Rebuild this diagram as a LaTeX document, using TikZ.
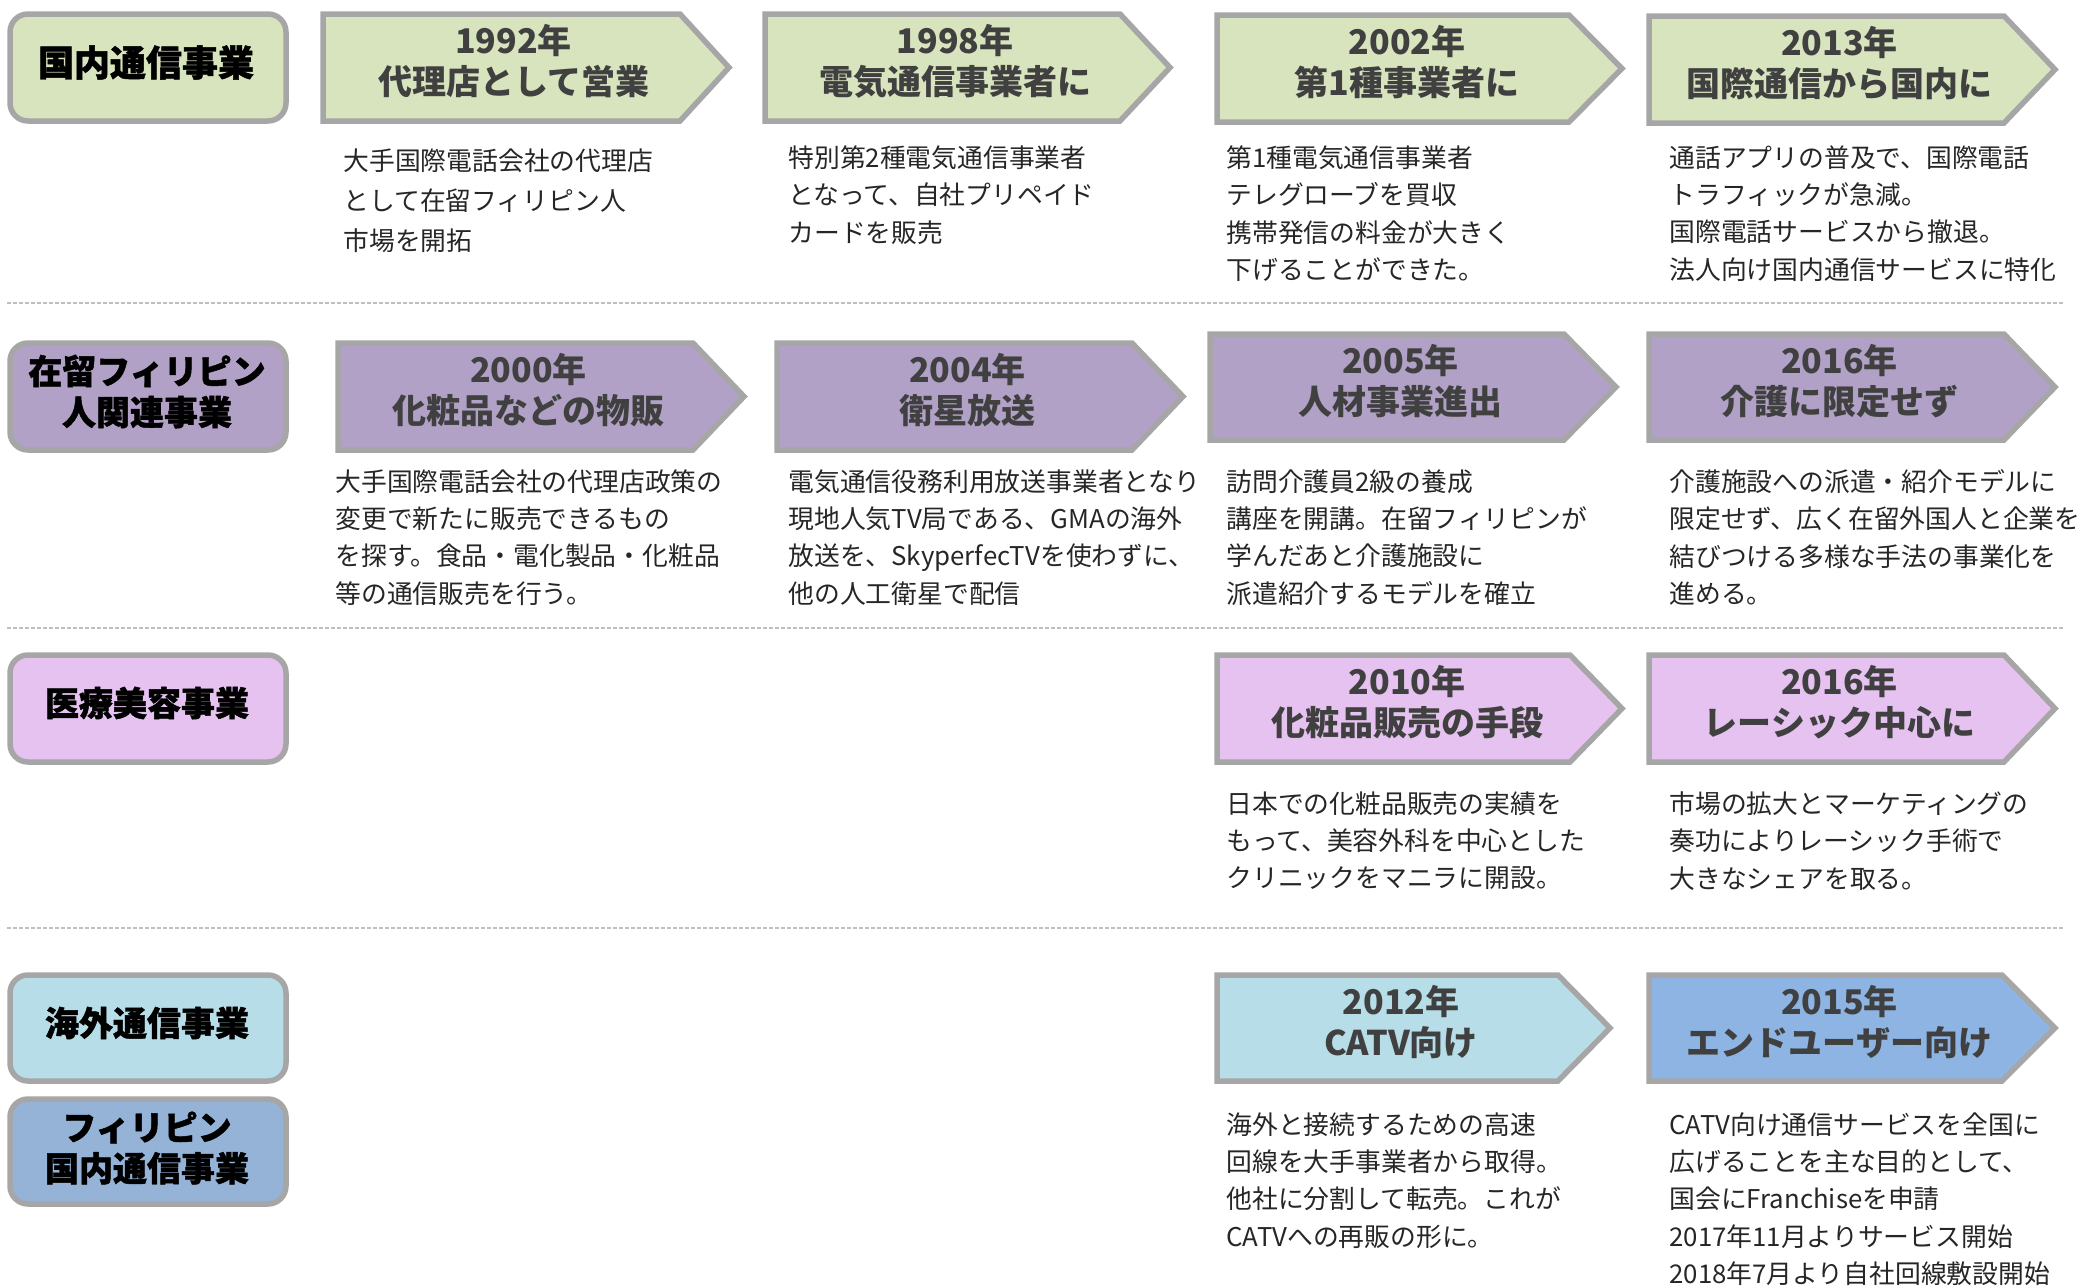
\documentclass[tikz,border=0pt]{standalone}
\usepackage{fontspec}
\setmainfont{Noto Sans CJK JP}
\newfontfamily\catfont{Noto Sans CJK JP}[BoldFeatures={FakeBold=1.3}]
\definecolor{bordergray}{HTML}{A6A6A6}
\definecolor{titlegray}{HTML}{404040}
\definecolor{desccol}{HTML}{262626}
\definecolor{dashgray}{HTML}{BFBFBF}
\definecolor{greenfill}{HTML}{D7E4BD}
\definecolor{purplefill}{HTML}{B2A1C7}
\definecolor{pinkfill}{HTML}{E5C2F0}
\definecolor{lbluefill}{HTML}{B7DEE8}
\definecolor{bluecat}{HTML}{95B3D7}
\definecolor{bluearrow}{HTML}{8DB4E2}
\tikzset{
  arrowbox/.style={draw=bordergray, line width=2.75pt, line join=miter},
  catbox/.style={draw=bordergray, line width=2.75pt, rounded corners=9pt},
  titletext/.style={font=\fontsize{17}{20.5}\selectfont\bfseries, text=titlegray, align=center, inner sep=0pt},
  cattext/.style={font=\catfont\fontsize{17}{20.5}\selectfont\bfseries, text=black, align=center, inner sep=0pt},
  desc/.style={font=\fontsize{12.9}{18.7}\selectfont, text=desccol, align=left, anchor=north west, inner sep=0pt},
  sep/.style={draw=dashgray, line width=0.8pt, dash pattern=on 2pt off 1pt}
}
% name, left, top, shoulder, tip, bottom, fill, title
\newcommand{\tlarrow}[8]{%
  \draw[arrowbox, fill=#7] (#2+3,#3+3) -- (#4-1,#3+3) -- (#5-4,{(#3+#6)/2}) -- (#4-1,#6-3) -- (#2+3,#6-3) -- cycle;
  \node[titletext] (#1) at ({(#2+#5)/2-13},{(#3+#6)/2-6}) {#8};
}
\begin{document}
\begin{tikzpicture}[x=0.5pt,y=-0.5pt]
\useasboundingbox (0,0) rectangle (2085,1286);

% separators
\coordinate (s1a) at (7,303);  \coordinate (s1b) at (2064,303);
\coordinate (s2a) at (7,628);  \coordinate (s2b) at (2064,628);
\coordinate (s3a) at (7,928);  \coordinate (s3b) at (2064,928);
\draw[sep] (s1a) -- (s1b);
\draw[sep] (s2a) -- (s2b);
\draw[sep] (s3a) -- (s3b);

% category boxes
\draw[catbox, fill=greenfill]  (10,14) rectangle (286,121);
\node[cattext, font=\catfont\fontsize{18}{16}\selectfont\bfseries] (cat1) at (146,62.5) {国内通信事業};
\draw[catbox, fill=purplefill] (10,343) rectangle (286,450);
\node[cattext] (cat2) at (147,391.5) {在留フィリピン\\人関連事業};
\draw[catbox, fill=pinkfill]   (10,655) rectangle (286,762);
\node[cattext] (cat3) at (147,703) {医療美容事業};
\draw[catbox, fill=lbluefill]  (10,975) rectangle (286,1081);
\node[cattext] (cat4) at (147,1023) {海外通信事業};
\draw[catbox, fill=bluecat]    (10,1099) rectangle (286,1204);
\node[cattext] (cat5) at (147,1148) {フィリピン\\国内通信事業};

% row 1
\tlarrow{t1992}{320}{11}{681}{733}{124}{greenfill}{1992年\\代理店として営業}
\tlarrow{t1998}{762}{11}{1121}{1174}{124}{greenfill}{1998年\\電気通信事業者に}
\tlarrow{t2002}{1214}{12}{1570}{1626}{125}{greenfill}{2002年\\第1種事業者に}
\tlarrow{t2013}{1646}{13}{2005}{2059}{126}{greenfill}{2013年\\国際通信から国内に}

\node[desc, font=\fontsize{12.9}{20}\selectfont] (d1992) at (343,148) {大手国際電話会社の代理店\\として在留フィリピン人\\市場を開拓};
\node[desc] (d1998) at (788,145) {特別第2種電気通信事業者\\となって、自社プリペイド\\カードを販売};
\node[desc] (d2002) at (1226,145) {第1種電気通信事業者\\テレグローブを買収\\携帯発信の料金が大きく\\下げることができた。};
\node[desc] (d2013) at (1669,145) {通話アプリの普及で、国際電話\\トラフィックが急減。\\国際電話サービスから撤退。\\法人向け国内通信サービスに特化};

% row 2
\tlarrow{t2000}{335}{340}{694}{748}{453}{purplefill}{2000年\\化粧品などの物販}
\tlarrow{t2004}{774}{340}{1133}{1187}{453}{purplefill}{2004年\\衛星放送}
\tlarrow{t2005}{1207}{331}{1565}{1620}{443}{purplefill}{2005年\\人材事業進出}
\tlarrow{t2016a}{1646}{331}{2005}{2059}{443}{purplefill}{2016年\\介護に限定せず}

\node[desc] (d2000) at (335,469) {大手国際電話会社の代理店政策の\\変更で新たに販売できるもの\\を探す。食品・電化製品・化粧品\\等の通信販売を行う。};
\node[desc] (d2004) at (788,469) {電気通信役務利用放送事業者となり\\現地人気TV局である、GMAの海外\\放送を、SkyperfecTVを使わずに、\\他の人工衛星で配信};
\node[desc] (d2005) at (1226,469) {訪問介護員2級の養成\\講座を開講。在留フィリピンが\\学んだあと介護施設に\\派遣紹介するモデルを確立};
\node[desc] (d2016a) at (1669,469) {介護施設への派遣・紹介モデルに\\限定せず、広く在留外国人と企業を\\結びつける多様な手法の事業化を\\進める。};

% row 3
\tlarrow{t2010}{1214}{652}{1571}{1626}{765}{pinkfill}{2010年\\化粧品販売の手段}
\tlarrow{t2016b}{1646}{652}{2005}{2059}{765}{pinkfill}{2016年\\レーシック中心に}

\node[desc] (d2010) at (1226,791) {日本での化粧品販売の実績を\\もって、美容外科を中心とした\\クリニックをマニラに開設。};
\node[desc] (d2016b) at (1669,791) {市場の拡大とマーケティングの\\奏功によりレーシック手術で\\大きなシェアを取る。};

% row 4
\tlarrow{t2012}{1214}{972}{1559}{1614}{1084}{lbluefill}{2012年\\CATV向け}
\tlarrow{t2015}{1646}{972}{2003}{2059}{1084}{bluearrow}{2015年\\エンドユーザー向け}

\node[desc] (d2012) at (1226,1112) {海外と接続するための高速\\回線を大手事業者から取得。\\他社に分割して転売。これが\\CATVへの再販の形に。};
\node[desc] (d2015) at (1669,1112) {CATV向け通信サービスを全国に\\広げることを主な目的として、\\国会にFranchiseを申請\\2017年11月よりサービス開始\\2018年7月より自社回線敷設開始};

\end{tikzpicture}
\end{document}
